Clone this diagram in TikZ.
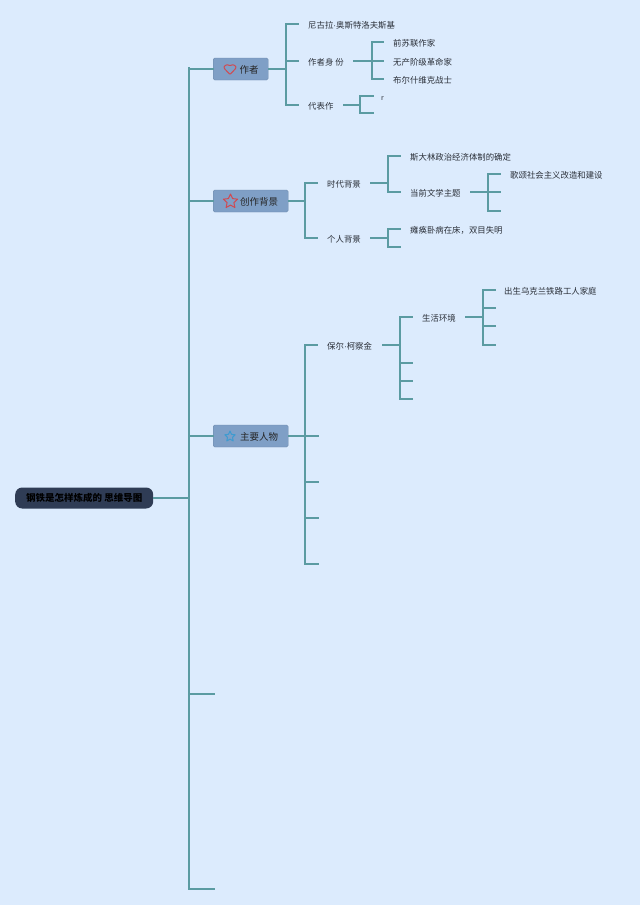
\documentclass[tikz,border=0pt]{standalone}
\usepackage{fontspec}
\setmainfont{Noto Sans CJK SC}
\newfontfamily\dotfont{Liberation Sans}
\newcommand{\middot}{{\dotfont ·}}
\usetikzlibrary{shapes.geometric}
\definecolor{bgcol}{HTML}{DCEBFD}
\definecolor{linkcol}{HTML}{5B9BA2}
\definecolor{boxcol}{HTML}{7F9FC6}
\definecolor{rootcol}{HTML}{2F3C55}
\definecolor{txtcol}{HTML}{2A2F38}
\definecolor{iconred}{HTML}{D04A52}
\definecolor{iconblue}{HTML}{3F9BD0}
\tikzset{
  x=1pt,y=-1pt,
  link/.style={draw=linkcol,line width=1.05pt,line cap=rect},
  label/.style={anchor=west,inner xsep=10pt,inner ysep=0pt,text height=8pt,text depth=0pt,text=txtcol,font=\fontsize{8.4}{10}\selectfont},
  topic/.style={anchor=west,fill=boxcol,draw=boxcol!85!black,line width=.4pt,rounded corners=1.5pt,inner sep=0pt,text height=9pt,text depth=0pt,text=black!85,font=\fontsize{9.5}{11}\selectfont,align=center},
  rootbox/.style={anchor=west,fill=rootcol,rounded corners=7pt,inner sep=0pt,minimum width=138pt,minimum height=21pt,text=black,font=\fontsize{9.5}{11}\selectfont\bfseries},
  staricon/.style={star,star points=5,star point ratio=2.1,fill=none,inner sep=0pt,line width=1pt,line join=round},
}
\begin{document}
\begin{tikzpicture}
\useasboundingbox[fill=bgcol] (0,0) rectangle (640,905);
% root and main trunk
\node[rootbox] (root) at (15,498) {钢铁是怎样炼成的 思维导图};
\coordinate (trunkTop) at (189,68);
\coordinate (trunkBot) at (189,889);
\coordinate (trunkEndA) at (214,694);
\coordinate (trunkEndB) at (214,889);
\node[topic,minimum width=55pt,minimum height=22pt] (author) at (213,69) {\hspace*{17pt}作者};
\node[topic,minimum width=75pt,minimum height=22pt] (bg) at (213,201) {\hspace*{17pt}创作背景};
\node[topic,minimum width=75pt,minimum height=22pt] (chars) at (213,436) {\hspace*{17pt}主要人物};
\draw[link] (trunkTop) -- (trunkBot);
\draw[link] (root.east) -- (root.east -| trunkTop);
\foreach \t in {author,bg,chars} \draw[link] (\t.west -| trunkTop) -- (\t.west);
\draw[link] (trunkEndA -| trunkTop) -- (trunkEndA);
\draw[link] (trunkEndB -| trunkTop) -- (trunkEndB);
% icons
\draw[draw=iconred,line width=1pt,rounded corners=.8pt] (230,74.5) -- (224.8,69) .. controls (223,66.5) and (226.5,63.5) .. (230,65.8) .. controls (233.5,63.5) and (237,66.5) .. (235.2,69) -- cycle;
\node[staricon,draw=iconred,minimum size=15pt] (starbg) at (230.5,201.5) {};
\node[staricon,draw=iconblue,minimum size=11pt] (starch) at (230,436.5) {};

% author branch
\node[label] (a1) at (298,24) {尼古拉\middot 奥斯特洛夫斯基};
\node[label] (a2) at (298,61) {作者身 份};
\node[label] (a3) at (298,105) {代表作};
\coordinate (busA) at (286,24);
\draw[link] (author.east) -- (author.east -| busA);
\draw[link] (a1.west -| busA) -- (a3.west -| busA);
\foreach \t in {a1,a2,a3} \draw[link] (\t.west -| busA) -- (\t.west);
\node[label] (a21) at (383,42) {前苏联作家};
\node[label] (a22) at (383,61) {无产阶级革命家};
\node[label] (a23) at (383,79) {布尔什维克战士};
\coordinate (busA2) at (372,42);
\draw[link] (a2.east) -- (a2.east -| busA2);
\draw[link] (a21.west -| busA2) -- (a23.west -| busA2);
\foreach \t in {a21,a22,a23} \draw[link] (\t.west -| busA2) -- (\t.west);
\node[label,font=\fontsize{7}{8}\selectfont,inner xsep=8pt] (a31) at (373,96) {r};
\coordinate (a32) at (373,113);
\coordinate (busA3) at (360,96);
\draw[link] (a3.east) -- (a3.east -| busA3);
\draw[link] (a31.west -| busA3) -- (a32 -| busA3);
\draw[link] (a31.west -| busA3) -- (a31.west);
\draw[link] (a32 -| busA3) -- (a32);

% background branch
\node[label] (b1) at (317,183) {时代背景};
\node[label] (b2) at (317,238) {个人背景};
\coordinate (busB) at (305,183);
\draw[link] (bg.east) -- (bg.east -| busB);
\draw[link] (b1.west -| busB) -- (b2.west -| busB);
\foreach \t in {b1,b2} \draw[link] (\t.west -| busB) -- (\t.west);
\node[label] (b11) at (400,156) {斯大林政治经济体制的确定};
\node[label] (b12) at (400,192) {当前文学主题};
\coordinate (busB1) at (388,156);
\draw[link] (b1.east) -- (b1.east -| busB1);
\draw[link] (b11.west -| busB1) -- (b12.west -| busB1);
\foreach \t in {b11,b12} \draw[link] (\t.west -| busB1) -- (\t.west);
\node[label] (b121) at (500,174) {歌颂社会主义改造和建设};
\coordinate (b122) at (500,192);
\coordinate (b123) at (500,211);
\coordinate (busB12) at (488,174);
\draw[link] (b12.east) -- (b12.east -| busB12);
\draw[link] (b121.west -| busB12) -- (b123 -| busB12);
\draw[link] (b121.west -| busB12) -- (b121.west);
\foreach \t in {b122,b123} \draw[link] (\t -| busB12) -- (\t);
\node[label] (b21) at (400,229) {瘫痪卧病在床，双目失明};
\coordinate (b22) at (400,247);
\coordinate (busB2) at (388,229);
\draw[link] (b2.east) -- (b2.east -| busB2);
\draw[link] (b21.west -| busB2) -- (b22 -| busB2);
\draw[link] (b21.west -| busB2) -- (b21.west);
\draw[link] (b22 -| busB2) -- (b22);

% characters branch
\node[label] (c1) at (317,345) {保尔\middot 柯察金};
\coordinate (c2) at (318,436);
\coordinate (c3) at (318,482);
\coordinate (c4) at (318,518);
\coordinate (c5) at (318,564);
\coordinate (busC) at (305,345);
\draw[link] (c1.west -| busC) -- (c5 -| busC);
\draw[link] (c1.west -| busC) -- (c1.west);
\draw[link] (chars.east) -- (c2);
\foreach \t in {c3,c4,c5} \draw[link] (\t -| busC) -- (\t);
\node[label] (c11) at (412,317) {生活环境};
\coordinate (c12) at (412,363);
\coordinate (c13) at (412,381);
\coordinate (c14) at (412,399);
\coordinate (busC1) at (400,317);
\draw[link] (c1.east) -- (c1.east -| busC1);
\draw[link] (c11.west -| busC1) -- (c14 -| busC1);
\draw[link] (c11.west -| busC1) -- (c11.west);
\foreach \t in {c12,c13,c14} \draw[link] (\t -| busC1) -- (\t);
\node[label,inner xsep=9pt] (c111) at (495,290) {出生乌克兰铁路工人家庭};
\coordinate (c112) at (495,308);
\coordinate (c113) at (495,326);
\coordinate (c114) at (495,345);
\coordinate (busC11) at (483,290);
\draw[link] (c11.east) -- (c11.east -| busC11);
\draw[link] (c111.west -| busC11) -- (c114 -| busC11);
\draw[link] (c111.west -| busC11) -- (c111.west);
\foreach \t in {c112,c113,c114} \draw[link] (\t -| busC11) -- (\t);
\end{tikzpicture}
\end{document}
